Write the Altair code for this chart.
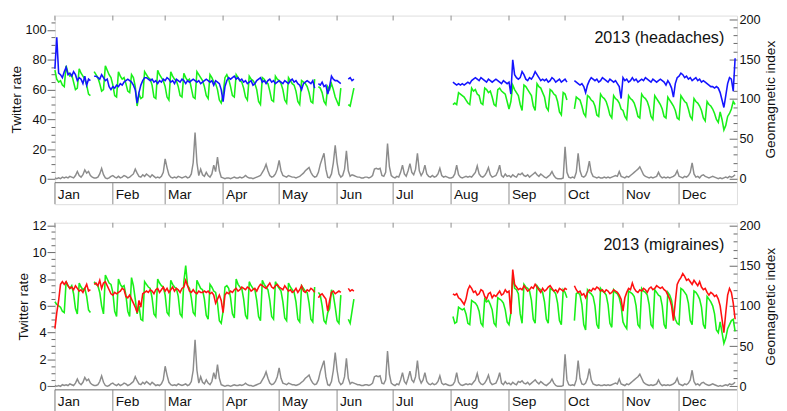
import altair as alt
import pandas as pd

# ---------------- data (daily, 2013) ----------------
GRAY = (
    [1,0,1,0,2,1,2,1,3,2,1,4,9,4,2,5,11,7,9,4,2,1,1,2,6,13,5,1,0,1,3] +
    [4,2,1,3,1,2,4,3,1,2,4,6,12,7,3,2,5,3,6,4,2,5,3,1,2,1,3,8] +
    [25,14,5,2,1,2,1,3,2,1,2,3,1,2,6,20,58,20,4,12,5,3,8,4,2,6,17,9,27,10,2] +
    [1,0,1,1,0,1,2,1,1,2,1,2,4,2,1,1,0,1,2,3,4,8,12,18,10,4,2,3,6,12] +
    [23,10,4,3,2,4,3,2,2,1,2,3,5,7,10,12,14,8,4,2,3,8,18,25,32,12,2,1,6,20,42] +
    [20,6,2,4,12,35,10,3,5,4,3,2,2,1,1,2,2,1,2,4,12,13,12,13,4,3,8,44,15,4] +
    [2,1,3,2,8,17,6,3,10,19,8,5,12,32,10,4,8,17,6,3,2,4,2,3,6,13,4,2,3,2,1] +
    [1,2,6,17,5,2,1,2,3,2,3,2,5,8,16,6,3,2,4,8,14,5,2,3,4,9,17,4,2,6,3] +
    [4,2,5,3,2,6,5,7,4,3,5,2,4,6,8,5,3,6,4,2,1,3,5,9,4,1,0,0,0,1] +
    [40,8,2,1,2,1,8,32,10,3,2,4,10,22,8,3,2,1,2,1,1,2,1,2,1,2,3,4,3,9,3] +
    [2,1,3,2,4,6,8,10,12,15,10,5,3,2,1,2,1,2,3,8,3,1,2,1,2,1,2,3,5,10] +
    [3,2,1,3,2,4,8,20,6,2,3,1,4,5,3,2,1,2,3,2,1,0,1,0,1,2,1,3,2,3,5]
)

N = None
HEAD_BLUE = (
    [74,95,71,70,68,72,75,70,71,69,72,70,66,68,67,64,69,63,67,66,N,69,69,68,67,70,68,66,67,62,60] +
    [62,61,63,62,64,63,65,66,67,66,65,63,60,51,58,63,66,68,68,67,66,67,65,66,64,66,65,67] +
    [66,68,67,65,66,64,67,66,65,67,66,64,66,65,66,67,66,65,66,64,65,66,67,66,65,66,63,66,65,64,60] +
    [52,62,66,68,67,68,69,67,68,66,67,65,66,64,65,66,63,64,66,67,68,65,66,64,66,67,65,66,64,65] +
    [66,65,64,66,65,64,66,67,65,66,64,63,60,64,65,66,65,64,66,61,N,64,63,65,62,63,57,62,69,67,66] +
    [66,65,64,N,N,N,67,68,66,67] + [N]*20 +
    [N]*31 +
    [N,65,64,63,64,63,64,63,64,65,64,66,67,68,67,66,68,67,66,65,67,66,65,66,67,66,65,64,66,65,64] +
    [65,57,80,70,68,67,68,72,70,67,66,68,67,69,72,70,68,66,67,66,67,65,66,68,67,65,66,67,65,66] +
    [67,65,N,N,N,66,65,64,63,64,62,58,63,66,68,67,66,67,65,66,68,67,66,65,67,66,65,66,64,62,54] +
    [68,66,67,65,66,68,66,67,65,66,67,66,68,67,66,65,67,66,65,66,67,66,65,63,66,64,61,55,64,68] +
    [69,71,70,68,69,67,68,66,67,68,66,67,65,66,65,64,63,62,62,61,62,61,58,53,48,56,64,68,67,59,81]
)

HEAD_GREEN = (
    [73,67,65,66,63,62,76,71,69,70,65,60,61,74,71,69,67,63,57,56,N,72,70,68,64,59,60,76,73,70,68] +
    [63,56,55,72,69,67,68,64,59,58,70,68,62,49,57,54,55,72,70,68,67,63,55,54,73,70,68,66] +
    [62,55,53,72,69,67,66,62,56,55,71,68,66,67,61,55,54,72,70,68,66,62,56,54,70,68,65,64,60,53,51] +
    [57,68,70,67,62,56,55,70,68,66,65,61,55,53,69,67,66,64,60,52,50,68,67,65,64,59,53,52,69,67] +
    [66,64,60,53,51,68,66,64,63,59,52,50,66,65,64,62,58,52,51,67,N,62,61,58,52,50,62,60,64,60,55] +
    [52,49,61,N,N,N,50,49,55,61] + [N]*20 +
    [N]*31 +
    [N,50,51,50,58,57,56,55,53,51,50,61,59,60,57,56,51,50,61,60,58,59,55,50,49,60,61,59,58,57,52] +
    [47,52,63,60,58,56,50,46,63,62,60,58,56,49,46,64,62,61,58,55,48,46,60,59,57,56,52,45,43,58] +
    [57,53,N,N,N,47,55,54,53,49,44,42,56,55,53,52,49,43,42,57,55,54,52,48,43,41,56,54,53,51,47] +
    [46,42,40,56,54,53,51,47,42,41,57,55,54,52,48,42,40,56,54,52,50,47,42,41,55,53,51,49,46,41] +
    [40,56,54,52,51,47,42,40,54,52,51,49,46,41,39,52,50,49,47,44,40,38,45,40,33,36,42,44,47,52,50]
)

MIG_RED = (
    [4.3,5.5,6.4,7.6,7.8,7.6,7.8,7.5,7.3,7.4,7.2,7.5,7.3,7.1,7.2,7.0,7.3,7.6,7.1,7.2,N,7.6,7.7,7.5,7.9,7.3,7.7,7.8,7.5,7.2,6.9] +
    [6.8,7.0,6.9,7.0,7.1,7.3,7.2,6.7,6.6,6.8,6.5,6.2,5.9,5.5,6.4,5.9,6.9,7.0,7.1,7.0,7.2,7.1,6.9,7.2,7.3,7.0,7.2,7.4] +
    [7.1,7.3,7.0,7.2,7.4,7.1,7.3,7.2,7.0,7.3,7.4,7.9,7.5,7.1,7.0,7.2,7.0,6.9,7.1,7.0,7.0,7.1,7.0,7.1,6.9,7.0,6.8,6.2,6.5,6.8,6.4] +
    [5.5,6.8,7.0,6.9,7.1,7.0,7.2,7.3,7.1,7.2,7.4,7.3,7.2,7.4,7.3,7.1,7.2,7.3,7.1,7.4,7.6,7.5,7.4,7.3,7.5,7.7,7.4,7.3,7.5,7.6] +
    [7.4,7.3,7.2,7.5,7.3,7.1,7.2,7.0,7.1,7.3,7.0,7.2,7.5,7.1,7.0,7.2,7.1,7.3,7.2,7.0,N,6.6,6.8,6.9,6.7,6.5,5.6,6.4,7.0,7.1,6.9] +
    [7.0,7.1,7.0,N,N,N,7.3,7.1,7.2,7.1] + [N]*20 +
    [N]*31 +
    [N,6.9,6.8,6.9,6.6,6.5,6.3,6.1,6.5,7.2,7.5,7.3,7.0,7.1,6.8,6.9,7.2,7.1,6.7,6.5,6.9,7.0,6.6,6.8,6.7,6.9,7.1,6.8,6.9,7.2,7.0] +
    [7.1,5.4,8.7,7.6,7.4,7.2,7.3,7.2,7.5,7.3,7.1,7.2,7.4,7.3,7.6,7.4,7.2,7.0,7.3,7.1,7.2,7.4,7.5,7.3,7.1,7.2,7.0,7.3,7.2,7.1] +
    [7.3,7.2,N,N,N,7.5,7.2,7.0,7.1,6.8,6.9,6.6,7.0,7.2,7.1,7.3,7.2,7.4,7.3,7.1,7.2,7.0,7.2,7.1,6.9,7.0,7.2,7.1,7.0,6.8,6.5] +
    [5.6,6.6,7.0,7.3,7.2,7.7,7.3,7.1,7.0,7.2,7.1,7.3,7.2,7.0,7.3,7.4,7.2,7.3,7.5,7.4,7.3,7.4,7.2,7.1,6.8,6.5,6.0,4.9,6.3,7.6] +
    [7.9,8.1,8.4,8.2,7.9,8.0,7.8,7.6,7.9,7.7,7.5,7.8,7.4,7.2,7.3,7.0,6.8,7.0,6.9,6.7,6.8,6.5,6.0,5.0,4.0,5.5,6.8,7.3,7.0,6.2,5.0]
)

MIG_GREEN = (
    [6.3,6.1,6.0,5.9,5.6,5.5,7.8,7.5,7.3,7.5,6.9,5.8,5.4,7.7,7.4,7.2,7.3,6.7,5.7,5.5,N,7.8,7.6,7.5,7.0,6.0,5.4,8.3,8.0,7.7,7.6] +
    [7.0,5.6,5.2,8.0,7.6,7.4,7.5,6.8,5.6,5.2,8.1,7.5,6.5,5.4,6.0,5.0,4.9,7.8,7.6,7.4,7.3,6.6,5.4,5.2,8.0,7.7,7.5,7.4] +
    [6.8,5.5,5.3,7.9,7.6,7.4,7.3,6.7,5.4,5.2,7.8,9.0,7.5,7.3,6.6,5.5,5.3,7.9,7.6,7.3,7.2,6.5,5.3,5.0,7.6,7.4,7.1,7.0,6.2,4.9,4.7] +
    [5.6,7.4,7.5,7.3,6.6,5.4,5.1,8.0,7.6,7.4,7.3,6.5,5.3,5.0,7.8,7.5,7.3,7.2,6.4,5.2,4.9,7.9,7.6,7.4,7.2,6.4,5.2,5.0,7.8,7.5] +
    [7.3,7.1,6.3,5.1,4.9,7.7,7.4,7.2,7.0,6.3,5.0,4.8,7.5,7.3,7.1,7.0,6.2,5.0,4.8,7.4,N,7.0,6.8,6.0,4.9,4.7,5.5,5.8,7.2,6.8,5.9] +
    [4.9,4.7,6.8,N,N,N,5.0,4.7,5.6,6.5] + [N]*20 +
    [N]*31 +
    [N,5.2,4.7,4.8,5.9,5.8,5.7,5.8,5.4,4.7,4.6,6.4,6.3,6.2,6.0,5.6,4.7,4.5,6.5,6.3,6.4,6.1,5.7,4.7,4.5,6.6,6.5,6.4,6.2,5.7,4.8] +
    [4.6,5.5,8.3,7.3,7.2,6.9,5.4,4.7,7.6,7.4,7.3,7.1,6.4,5.0,4.7,7.5,7.3,7.2,7.0,6.3,5.0,4.7,7.3,7.2,7.1,6.9,6.2,4.9,4.6,7.2] +
    [7.0,6.6,N,N,N,4.9,6.9,7.0,6.8,6.1,4.6,4.2,7.2,7.0,6.9,6.7,6.0,4.6,4.3,7.3,7.1,7.0,6.8,6.1,4.7,4.4,7.2,7.0,6.9,6.6,6.0] +
    [4.8,4.5,4.3,7.1,7.0,6.9,6.7,6.0,4.6,4.4,7.3,7.1,7.0,6.8,6.1,4.6,4.4,7.2,7.0,6.8,6.7,6.0,4.6,4.3,7.0,6.8,6.4,5.5,5.0,4.7] +
    [4.6,7.3,7.2,7.0,6.8,6.2,4.9,4.6,7.1,7.0,6.8,6.5,5.9,4.6,4.3,6.7,6.5,6.3,6.0,5.4,4.2,4.0,4.8,4.0,3.2,3.6,4.3,4.6,4.9,5.0,4.1]
)

MONTHS = ["Jan", "Feb", "Mar", "Apr", "May", "Jun", "Jul", "Aug", "Sep", "Oct", "Nov", "Dec"]
MONTH_STARTS = ["2013-%02d-01T00:00:00" % m for m in range(1, 13)]

for s in (GRAY, HEAD_BLUE, HEAD_GREEN, MIG_RED, MIG_GREEN):
    assert len(s) == 365, len(s)

dates = pd.date_range("2013-01-01", periods=365, freq="D")
df = pd.DataFrame({
    "date": dates,
    "gray": GRAY,
    "hblue": pd.array(HEAD_BLUE, dtype="Float64").astype(float),
    "hgreen": pd.array(HEAD_GREEN, dtype="Float64").astype(float),
    "mred": pd.array(MIG_RED, dtype="Float64").astype(float),
    "mgreen": pd.array(MIG_GREEN, dtype="Float64").astype(float),
})
mdf = pd.DataFrame({"start": pd.to_datetime(MONTH_STARTS), "label": MONTHS})
one = pd.DataFrame({"k": [0]})

# ---------------- style ----------------
FONT = "Liberation Sans"
W, HD, HS = 698, 171, 22
H = HD + HS
FRAME = "#666666"
DIV = "#8a8a8a"
TXT = "#111111"
BLUE, GREEN, RED, GRAYC = "#1414ff", "#19f019", "#ff1010", "#8c8c8c"


def full_domain(lo, hi):
    return [lo - (hi - lo) * HS / HD, hi]


X = alt.X(
    "date:T",
    scale=alt.Scale(
        domain=[alt.DateTime(year=2013, month=1, date=1), alt.DateTime(year=2014, month=1, date=1)],
        nice=False,
    ),
    axis=None,
)


def panel(green_field, top_field, top_color, left_dom, left_major, left_minor, right_dom, title):
    lsc = alt.Scale(domain=full_domain(*left_dom), nice=False, zero=False)
    rsc = alt.Scale(domain=full_domain(*right_dom), nice=False, zero=False)
    r_major = [0, 50, 100, 150, 200]
    r_minor = [v for v in range(10, 201, 10) if v % 50]

    ax_lmaj = alt.Axis(orient="left", offset=0, values=left_major, tickSize=8, tickColor=FRAME,
                       domain=False, grid=False, labelFont=FONT, labelFontSize=13, labelColor=TXT,
                       labelPadding=1, title="Twitter rate", titleFont=FONT, titleFontSize=14,
                       titleFontWeight="normal", titleColor=TXT, titlePadding=2, titleY=HD / 2)
    ax_lmin = alt.Axis(orient="left", offset=0, values=left_minor, tickSize=4, tickColor=FRAME,
                       domain=False, grid=False, labels=False, title=None)
    ax_rmaj = alt.Axis(orient="right", offset=-8, values=r_major, tickSize=8, tickColor=FRAME,
                       domain=False, grid=False, labelFont=FONT, labelFontSize=13, labelColor=TXT,
                       labelPadding=2, title="Geomagnetic index", titleFont=FONT, titleFontSize=14,
                       titleFontWeight="normal", titleColor=TXT, titlePadding=4, titleAngle=270,
                       titleBaseline="top", titleY=HD / 2)
    ax_rmin = alt.Axis(orient="right", offset=-4, values=r_minor, tickSize=4, tickColor=FRAME,
                       domain=False, grid=False, labels=False, title=None)

    base = alt.Chart(df)
    gray = base.mark_line(color=GRAYC, strokeWidth=1.5).encode(
        x=X, y=alt.Y("gray:Q", scale=rsc, axis=ax_rmaj))
    gray_minor = base.mark_line(opacity=0).encode(
        x=X, y=alt.Y("gray:Q", scale=rsc, axis=ax_rmin))
    green = base.mark_line(color=GREEN, strokeWidth=1.6).encode(
        x=X, y=alt.Y(f"{green_field}:Q", scale=lsc, axis=ax_lmaj))
    top = base.mark_line(color=top_color, strokeWidth=1.6).encode(
        x=X, y=alt.Y(f"{top_field}:Q", scale=lsc, axis=ax_lmin))

    mbase = alt.Chart(mdf)
    strip_line = alt.Chart(one).mark_rule(color=FRAME, strokeWidth=1).encode(
        x=alt.value(0), x2=alt.value(W), y=alt.value(HD))
    dividers = mbase.mark_rule(color=DIV, strokeWidth=1).encode(
        x=alt.X("start:T"), y=alt.value(HD), y2=alt.value(H))
    top_ticks = mbase.mark_rule(color=DIV, strokeWidth=1).encode(
        x=alt.X("start:T"), y=alt.value(0), y2=alt.value(5))
    labels = mbase.mark_text(align="left", baseline="alphabetic", dx=3, font=FONT,
                             fontSize=14, color=TXT).encode(
        x=alt.X("start:T"), y=alt.value(HD + 17), text="label:N")
    ttl = alt.Chart(one).mark_text(align="right", baseline="alphabetic", font=FONT,
                                   fontSize=16.5, color=TXT).encode(
        x=alt.value(W - 13), y=alt.value(28), text=alt.value(title))

    return alt.layer(gray, gray_minor, green, top, strip_line, dividers, top_ticks, labels, ttl).resolve_scale(
        y="independent").resolve_axis(y="independent").properties(width=W, height=H)


top_minor = [v for v in range(5, 106, 5) if v % 20]
bot_minor = [v / 2 for v in range(1, 24) if v % 4]

p1 = panel("hgreen", "hblue", BLUE, (-2.4, 109.6), [0, 20, 40, 60, 80, 100], top_minor,
           (-5.0, 204.8), "2013 (headaches)")
p2 = panel("mgreen", "mred", RED, (-0.26, 12.19), [0, 2, 4, 6, 8, 10, 12], bot_minor,
           (-4.4, 203.6), "2013 (migraines)")

chart = alt.vconcat(p1, p2, spacing=14).properties(padding=0).configure_view(
    stroke=FRAME, strokeWidth=1).configure(background="white")

chart.save("out.html", embed_options={"renderer": "svg", "actions": False})
